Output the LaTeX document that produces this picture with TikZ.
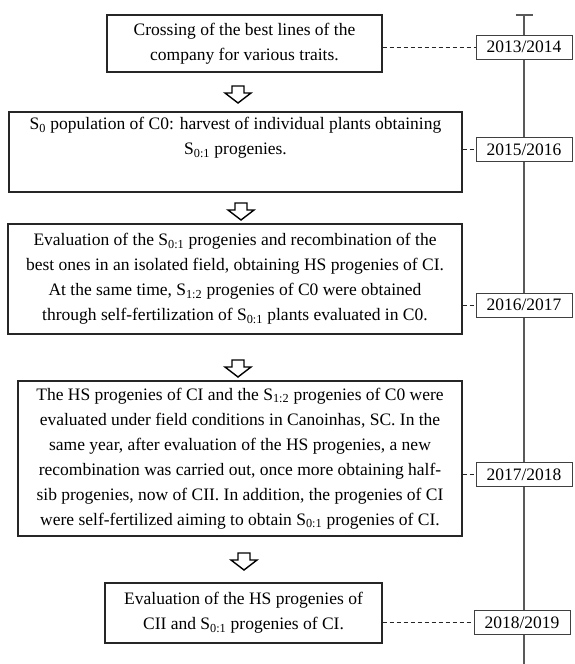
\documentclass[tikz,border=0pt]{standalone}
\usepackage{fontspec}
\setmainfont{Liberation Serif}
\begin{document}
\begin{tikzpicture}[x=1pt,y=-1pt,
  stage/.style={draw=black!85, line width=1.1pt, align=center, inner sep=0pt,
    font=\fontsize{17.5}{25}\selectfont},
  year/.style={draw=black!75, line width=1pt, fill=white, minimum width=96pt,
    minimum height=24pt, inner sep=0pt, font=\fontsize{17.5}{21}\selectfont},
  link/.style={draw=black!85, line width=1pt, dash pattern=on 4pt off 3pt},
  tline/.style={draw=black!65, line width=1.2pt},
  downarr/.pic={\draw[line width=1.4pt, line join=miter]
    (-6,0) -- (6,0) -- (6,7) -- (13,7) -- (0,17) -- (-13,7) -- (-6,7) -- cycle;}
]
\useasboundingbox (0,0) rectangle (574,664);

% timeline
\coordinate (tltop) at (524,15);
\coordinate (tlbot) at (524,664);
\draw[tline] (tltop) -- (tlbot);
\draw[tline] ([xshift=-8.5pt]tltop) -- ([xshift=8.5pt]tltop);

% stages
\node[stage, minimum width=275pt, minimum height=57pt] (b1) at (244.5,43.5)
  {Crossing of the best lines of the\\company for various traits.};
\node[stage, minimum width=453pt, minimum height=80pt] (b2) at (235.5,152)
  {S\textsubscript{0} population of C0: harvest of individual plants obtaining\\
   S\textsubscript{0:1} progenies.\\ \strut};
\node[stage, minimum width=454pt, minimum height=110pt] (b3) at (235,279)
  {Evaluation of the S\textsubscript{0:1} progenies and recombination of the\\
   best ones in an isolated field, obtaining HS progenies of CI.\\
   At the same time, S\textsubscript{1:2} progenies of C0 were obtained\\
   through self-fertilization of S\textsubscript{0:1} plants evaluated in C0.};
\node[stage, minimum width=444pt, minimum height=155pt] (b4) at (240,458.5)
  {The HS progenies of CI and the S\textsubscript{1:2} progenies of C0 were\\
   evaluated under field conditions in Canoinhas, SC. In the\\
   same year, after evaluation of the HS progenies, a new\\
   recombination was carried out, once more obtaining half-\\
   sib progenies, now of CII. In addition, the progenies of CI\\
   were self-fertilized aiming to obtain S\textsubscript{0:1} progenies of CI.};
\node[stage, minimum width=277pt, minimum height=60pt] (b5) at (243.5,613)
  {Evaluation of the HS progenies of\\CII and S\textsubscript{0:1} progenies of CI.};

% arrows between stages
\pic at (238,86) {downarr};
\pic at (241,203) {downarr};
\pic at (238,360) {downarr};
\pic at (244,553) {downarr};

% years
\node[year] (y1) at (524,47) {2013/2014};
\node[year] (y2) at (524,149.5) {2015/2016};
\node[year] (y3) at (524,305) {2016/2017};
\node[year] (y4) at (524,474.5) {2017/2018};
\node[year] (y5) at (522,622.5) {2018/2019};

% dashed links
\draw[link] (b1.east |- y1.west) -- (y1.west);
\draw[link] (b2.east |- y2.west) -- (y2.west);
\draw[link] (b3.east |- y3.west) -- (y3.west);
\draw[link] (b4.east |- y4.west) -- (y4.west);
\draw[link] (b5.east |- y5.west) -- (y5.west);
\end{tikzpicture}
\end{document}
